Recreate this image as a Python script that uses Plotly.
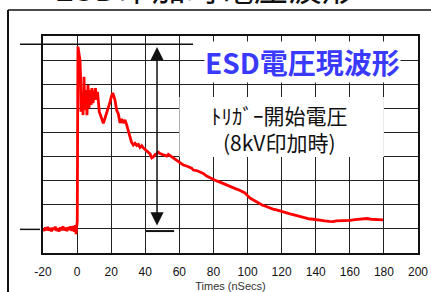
import plotly.graph_objects as go

# ---- data (time in ns, level in grid divisions) ----
t_ns = [-20, -19.3, -18.6, -18, -17.2, -16.5, -15.8, -15, -14.3, -13.5, -12.8, -12, -11.3, -10.5,
        -9.8, -9, -8.3, -7.5, -6.8, -6, -5.3, -4.5, -3.8, -3, -2.3, -1.6, -1.0, -0.6, -0.3,
        0.1, 0.5, 1.2, 1.7, 2.0, 2.3, 2.9, 3.5, 4.05, 4.6, 5.2, 5.8, 6.4, 7.0, 7.6, 8.2, 8.7, 9.3,
        10.2, 10.8, 11.4, 12.0, 13.0, 14.0, 15.4, 16.4, 17.4, 18.4, 19.3, 20.2, 20.9, 21.7, 22.2,
        23.2, 24.2, 25.2, 26.1, 27.1, 28.1, 29.1, 29.9, 31.0, 31.9, 33.0, 34.0, 35.0, 36.0, 36.9,
        37.9, 38.8, 39.8, 40.8, 41.8, 42.8, 43.8, 44.7, 45.7, 46.7, 47.6, 48.6, 50.6, 52.6, 53.5,
        54.5, 55.5, 56.4, 57.4, 58.4, 59.4, 60.4, 61.3, 62.3, 64.2, 66.2, 67.2, 68.2, 70.1, 72.1,
        74.0, 76.0, 78.0, 79.9, 81.9, 83.8, 85.6, 87.4, 89.5, 91.5, 93.2, 95.0, 96.8, 98.5, 100.0,
        101.4, 102.9, 104.4, 105.8, 107.3, 108.8, 110.2, 112.5, 114.9, 117.0, 119.0, 122.0, 124.9,
        127.8, 130.8, 133.7, 136.6, 138.6, 140.7, 143.0, 145.4, 147.8, 150.1, 152.1, 154.2, 157.1,
        160.1, 163.0, 166.0, 168.0, 170.1, 172.5, 174.8, 177.1, 179.5]
level = [0.02, -0.08, 0.06, -0.05, 0.08, -0.07, 0.03, -0.1, 0.05, -0.04, 0.09, -0.08, 0.02, -0.1,
         0.06, -0.05, 0.1, -0.06, 0.04, -0.09, 0.07, -0.04, 0.1, -0.08, 0.12, -0.12, 0.15, -0.22, 0.05,
         0.3, 7.56, 7.3, 7.0, 6.38, 4.86, 5.55, 4.72, 6.31, 4.93, 5.76, 4.72, 5.97, 5.01, 5.76, 5.14, 5.84, 5.22,
         5.55, 5.84, 5.35, 5.68, 4.86, 4.64, 4.38, 4.6, 4.81, 5.01, 5.26, 5.51, 5.64, 5.47, 5.35,
         4.93, 4.77, 4.39, 4.56, 4.39, 4.52, 4.31, 4.1, 3.73, 3.6, 3.48, 3.55, 3.46, 3.5, 3.38,
         3.45, 3.36, 3.3, 3.23, 3.16, 3.11, 2.94, 2.98, 3.08, 3.11, 3.18, 3.13, 3.07, 3.02, 3.09,
         3.04, 2.99, 2.94, 2.9, 2.86, 2.79, 2.73, 2.7, 2.65, 2.61, 2.57, 2.52, 2.44, 2.42, 2.36,
         2.3, 2.19, 2.12, 2.03, 1.99, 1.94, 1.88, 1.82, 1.78, 1.70, 1.66, 1.61, 1.56, 1.49, 1.38,
         1.28, 1.22, 1.16, 1.08, 1.03, 0.98, 0.95, 0.88, 0.82, 0.79, 0.74, 0.67, 0.62,
         0.57, 0.51, 0.46, 0.41, 0.40, 0.37, 0.35, 0.33, 0.31, 0.30, 0.33, 0.33, 0.35,
         0.35, 0.38, 0.39, 0.41, 0.43, 0.40, 0.39, 0.36, 0.37]

x_ticks = [-20, 0, 20, 40, 60, 80, 100, 120, 140, 160, 180, 200]
x_range = [-20, 200]
y_range = [-1, 8]

title_text = "ESD印加時電圧波形"
label_blue = "ESD電圧現波形"
label_trigger = "ﾄﾘｶﾞｰ開始電圧<br>(8kV印加時)"

peak_level = 7.656   # reference line at the top
base_level = -0.02   # reference line at the bottom
arrow_x = 46.9

def xp(x):
    return (x - x_range[0]) / (x_range[1] - x_range[0])

def yp(v):
    return (v - y_range[0]) / (y_range[1] - y_range[0])

fig = go.Figure()
fig.add_trace(go.Scatter(x=t_ns, y=level, mode="lines",
                         line=dict(color="#ff0000", width=2.8), hoverinfo="skip"))

W, H = 431, 292
ML, MR, MT, MB = 43, 13, 36, 39
PW, PH = W - ML - MR, H - MT - MB

def px2paper_x(px):
    return (px - ML) / PW

def py2paper_y(py):
    return (H - MB - py) / PH

shapes = [
    # outer frame
    dict(type="line", xref="paper", yref="paper", x0=px2paper_x(8), x1=px2paper_x(8),
         y0=py2paper_y(10), y1=py2paper_y(300), line=dict(color="#111", width=2)),
    dict(type="line", xref="paper", yref="paper", x0=px2paper_x(8), x1=px2paper_x(440),
         y0=py2paper_y(10), y1=py2paper_y(10), line=dict(color="#111", width=1.5)),
    # white box behind the trigger text
    dict(type="rect", xref="x", yref="y", x0=60, x1=180, y0=2.98, y1=5.47,
         fillcolor="white", line=dict(width=0), layer="above"),
    # top reference line
    dict(type="line", xref="paper", yref="paper", x0=px2paper_x(20), x1=xp(68.0),
         y0=yp(peak_level), y1=yp(peak_level), line=dict(color="#111", width=1.5)),
    # bottom-left reference line
    dict(type="line", xref="paper", yref="paper", x0=px2paper_x(20), x1=px2paper_x(40),
         y0=yp(base_level), y1=yp(base_level), line=dict(color="#111", width=1.5)),
    # bottom reference segment
    dict(type="line", xref="x", yref="y", x0=40.4, x1=56.9, y0=-0.09, y1=-0.09,
         line=dict(color="#111", width=2)),
]

annotations = [
    dict(text=title_text, xref="paper", yref="paper", x=px2paper_x(205), y=py2paper_y(-14),
         showarrow=False, font=dict(family="Noto Sans CJK JP", size=34, color="#111"),
         xanchor="center", yanchor="middle"),
    dict(text=label_blue, xref="x", yref="y", x=132.5, y=6.92, showarrow=False,
         font=dict(family="Noto Sans CJK JP", size=28, color="#3a3aff", weight="bold"),
         bgcolor="white", borderpad=0, xanchor="center", yanchor="middle"),
    dict(text=label_trigger, xref="x", yref="y", x=119.0, y=4.18, showarrow=False,
         font=dict(family="Noto Sans CJK JP", size=21, color="#111"),
         xanchor="center", yanchor="middle"),
    # double-headed arrow
    dict(text="", xref="x", yref="y", axref="x", ayref="y", x=arrow_x, y=7.54,
         ax=arrow_x, ay=0.08, showarrow=True, arrowhead=2, startarrowhead=2,
         arrowside="end+start", arrowsize=1.75, startarrowsize=1.75, arrowwidth=1.5,
         arrowcolor="#111", standoff=0, startstandoff=0),
]

fig.update_layout(
    width=W, height=H,
    margin=dict(l=ML, r=MR, t=MT, b=MB, autoexpand=False),
    paper_bgcolor="white", plot_bgcolor="white",
    showlegend=False,
    shapes=shapes, annotations=annotations,
    xaxis=dict(range=x_range, tickmode="array", tickvals=x_ticks,
               ticktext=[str(v) for v in x_ticks], automargin=False,
               showgrid=True, gridcolor="#222", gridwidth=1, zeroline=False,
               showline=True, linecolor="#111", linewidth=2, mirror=True,
               ticks="", ticklabelstandoff=7,
               tickfont=dict(family="Liberation Sans", size=12, color="#111"),
               title=dict(text="Times (nSecs)", standoff=10,
                          font=dict(family="Liberation Sans", size=11, color="#333"))),
    yaxis=dict(range=y_range, dtick=1, tick0=-1, showticklabels=False, automargin=False,
               showgrid=True, gridcolor="#222", gridwidth=1, zeroline=False,
               showline=True, linecolor="#111", linewidth=2, mirror=True, ticks=""),
)

fig.write_html("out.html", config={"displayModeBar": False},
               post_script="document.body.style.margin='0';document.body.style.overflow='hidden';")
